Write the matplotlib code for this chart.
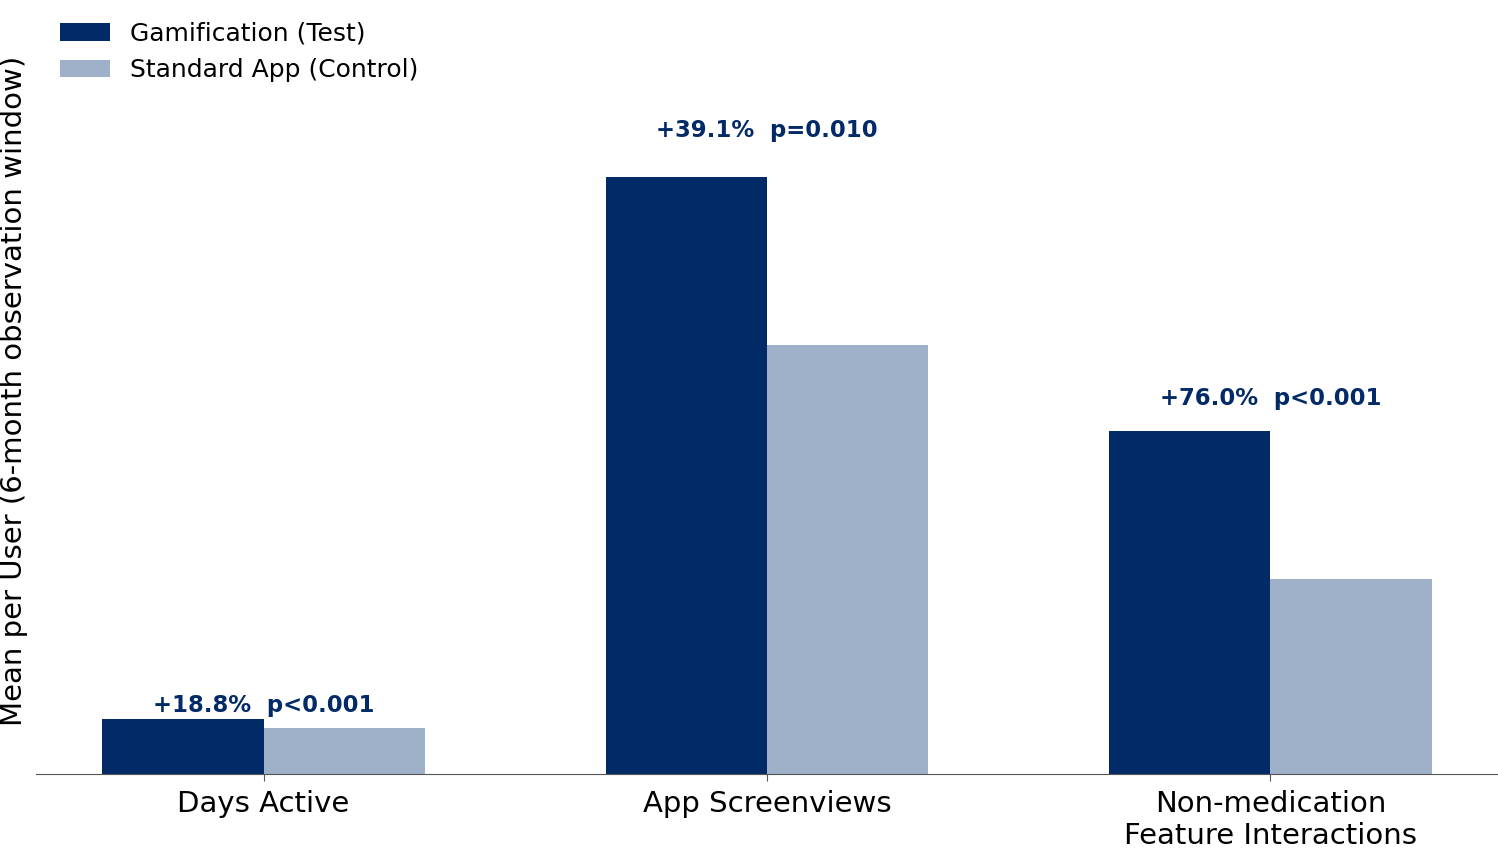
import numpy as np
import matplotlib.pyplot as plt

categories = ["Days Active", "App Screenviews", "Non-medication\nFeature Interactions"]
test_vals = [55.0, 596.0, 343.0]
control_vals = [46.3, 428.5, 195.0]
labels = ["+18.8%  p<0.001", "+39.1%  p=0.010", "+76.0%  p<0.001"]
label_offsets = [14, 47, 32]

navy = "#022A66"
light = "#9EB1C8"

fig = plt.figure(figsize=(14.98, 8.48), dpi=100)
ax = fig.add_axes([0.024, 0.087, 0.976, 0.905])

x = np.arange(len(categories))
w = 0.32
ax.bar(x - w / 2, test_vals, w, color=navy, label="Gamification (Test)")
ax.bar(x + w / 2, control_vals, w, color=light, label="Standard App (Control)")

for i, txt in enumerate(labels):
    ax.text(x[i], test_vals[i] + label_offsets[i], txt, ha="center", va="center",
            fontsize=16.4, fontweight="bold", color=navy)

ax.set_ylim(0, 766)
ax.set_xticks(x)
ax.set_xticklabels(categories, fontsize=21)
ax.set_yticks([])
ax.set_ylabel("Mean per User (6-month observation window)", fontsize=21, labelpad=6)
for s in ["top", "right", "left"]:
    ax.spines[s].set_visible(False)
ax.spines["bottom"].set_color("#555555")
ax.tick_params(axis="x", color="#555555", length=5, pad=6)

ax.legend(loc="upper left", frameon=False, fontsize=18, bbox_to_anchor=(0.001, 1.01),
          handlelength=2.0)

plt.savefig("out.png")
